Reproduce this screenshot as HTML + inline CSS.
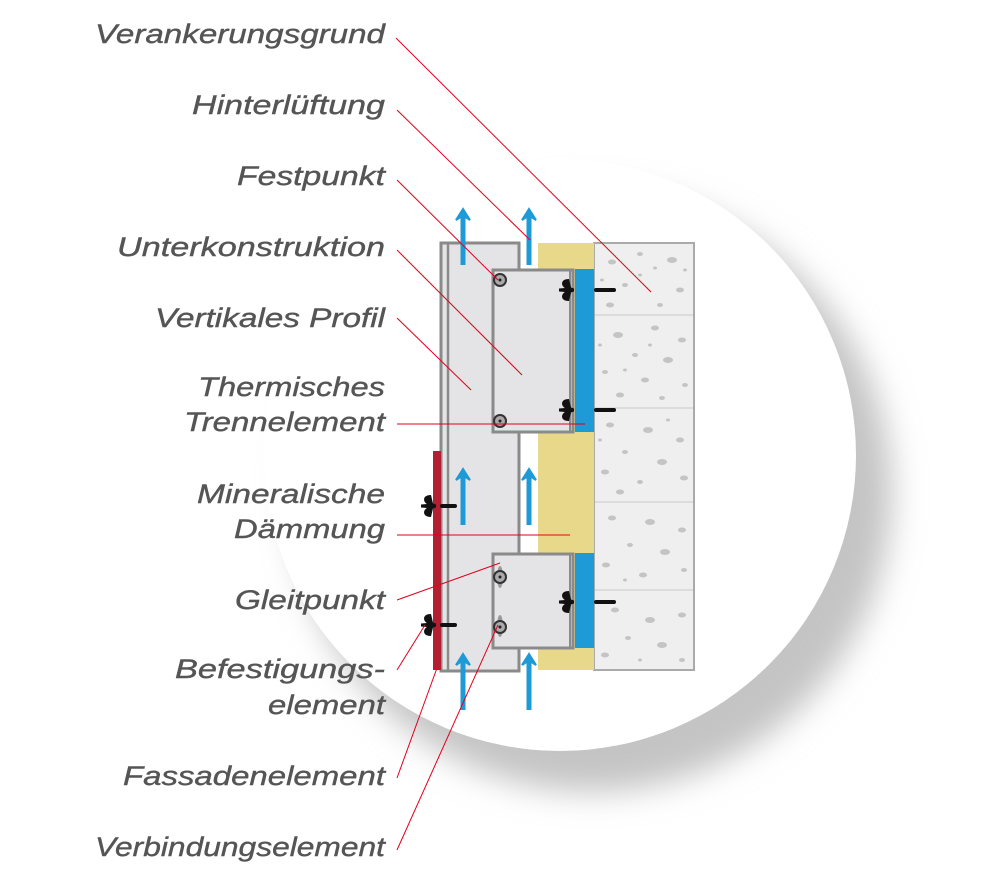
<!DOCTYPE html>
<html><head><meta charset="utf-8"><style>
html,body{margin:0;padding:0;background:#fff;}
svg{display:block;}
text{font-family:"Liberation Sans",sans-serif;font-style:italic;font-size:27px;fill:#555;stroke:#555;stroke-width:0.4;}
</style></head><body>
<svg width="1000" height="886" viewBox="0 0 1000 886" xmlns="http://www.w3.org/2000/svg">
<defs>
<filter id="blur" x="-20%" y="-20%" width="140%" height="140%"><feGaussianBlur stdDeviation="16"/></filter>
<g id="arrow"><rect x="-2.5" y="8" width="5" height="48" fill="#1e9ad6"/><path d="M0 0 L-7 11 L-2.5 8 L2.5 8 L7 11 Z" fill="#1e9ad6" stroke="#1e9ad6" stroke-width="2"/></g>
<g id="anchor"><path d="M1 -11 C-8 -11 -7 -4 -3 -2 L-9 -1.5 L-9 1.5 L-3 2 C-7 4 -8 11 1 11 L3 2.5 L6 1.5 L6 -1.5 L3 -2.5 Z" fill="#111"/></g>
</defs>
<!-- circle background with shadow -->
<circle cx="592" cy="492" r="300" fill="#c4c4c4" filter="url(#blur)"/>
<circle cx="560" cy="455" r="296" fill="#fff"/>

<!-- concrete -->
<rect x="594" y="243" width="100" height="427" fill="#efefef" stroke="#aaa" stroke-width="2"/>
<g stroke="#d6d6d6" stroke-width="1.5"><line x1="595" y1="315" x2="693" y2="315"/><line x1="595" y1="408" x2="693" y2="408"/><line x1="595" y1="502" x2="693" y2="502"/><line x1="595" y1="590" x2="693" y2="590"/></g>
<g fill="#c4c4c4">
<ellipse cx="612" cy="262" rx="4" ry="2.5"/><ellipse cx="640" cy="254" rx="3" ry="2"/><ellipse cx="672" cy="260" rx="5" ry="3"/><ellipse cx="625" cy="285" rx="3" ry="2"/><ellipse cx="680" cy="290" rx="4" ry="2.5"/><ellipse cx="660" cy="305" rx="3" ry="2"/><ellipse cx="610" cy="305" rx="4" ry="2.5"/><ellipse cx="640" cy="275" rx="2" ry="1.5"/><ellipse cx="655" cy="268" rx="2" ry="1.5"/><ellipse cx="602" cy="280" rx="2" ry="1.5"/><ellipse cx="685" cy="270" rx="2" ry="1.5"/>
<ellipse cx="618" cy="335" rx="5" ry="3"/><ellipse cx="655" cy="328" rx="4" ry="2.5"/><ellipse cx="682" cy="340" rx="4" ry="2.5"/><ellipse cx="635" cy="355" rx="3" ry="2"/><ellipse cx="668" cy="360" rx="5" ry="3"/><ellipse cx="605" cy="372" rx="3" ry="2"/><ellipse cx="645" cy="380" rx="4" ry="2.5"/><ellipse cx="685" cy="385" rx="3" ry="2"/><ellipse cx="620" cy="395" rx="4" ry="2.5"/><ellipse cx="662" cy="398" rx="3" ry="2"/><ellipse cx="600" cy="345" rx="2" ry="1.5"/><ellipse cx="650" cy="345" rx="2" ry="1.5"/><ellipse cx="625" cy="370" rx="2" ry="1.5"/>
<ellipse cx="610" cy="425" rx="4" ry="2.5"/><ellipse cx="648" cy="430" rx="5" ry="3"/><ellipse cx="680" cy="440" rx="4" ry="2.5"/><ellipse cx="625" cy="452" rx="3" ry="2"/><ellipse cx="662" cy="462" rx="5" ry="3"/><ellipse cx="605" cy="472" rx="4" ry="2.5"/><ellipse cx="640" cy="482" rx="3" ry="2"/><ellipse cx="684" cy="478" rx="4" ry="2.5"/><ellipse cx="620" cy="492" rx="4" ry="2.5"/><ellipse cx="600" cy="440" rx="2" ry="1.5"/><ellipse cx="668" cy="420" rx="2" ry="1.5"/>
<ellipse cx="612" cy="518" rx="4" ry="2.5"/><ellipse cx="650" cy="522" rx="5" ry="3"/><ellipse cx="682" cy="530" rx="4" ry="2.5"/><ellipse cx="630" cy="545" rx="3" ry="2"/><ellipse cx="665" cy="552" rx="5" ry="3"/><ellipse cx="606" cy="565" rx="4" ry="2.5"/><ellipse cx="643" cy="575" rx="4" ry="2.5"/><ellipse cx="684" cy="570" rx="3" ry="2"/><ellipse cx="625" cy="580" rx="2" ry="1.5"/>
<ellipse cx="615" cy="610" rx="4" ry="2.5"/><ellipse cx="650" cy="620" rx="5" ry="3"/><ellipse cx="682" cy="615" rx="4" ry="2.5"/><ellipse cx="628" cy="638" rx="3" ry="2"/><ellipse cx="662" cy="645" rx="5" ry="3"/><ellipse cx="605" cy="655" rx="4" ry="2.5"/><ellipse cx="682" cy="660" rx="3" ry="2"/><ellipse cx="640" cy="660" rx="2" ry="1.5"/>
</g>
<!-- insulation -->
<rect x="538" y="243" width="56" height="427" fill="#e8d98a"/>
<!-- vertical profile -->
<rect x="441" y="243" width="78" height="428" fill="#e4e4e6" stroke="#8a8a8a" stroke-width="3"/>
<line x1="448" y1="244" x2="448" y2="670" stroke="#8a8a8a" stroke-width="2.5"/>
<!-- facade element -->
<rect x="433" y="451" width="8" height="219" fill="#b21f33"/>
<!-- brackets -->
<rect x="493" y="270" width="80" height="162" fill="#e4e4e6" stroke="#8a8a8a" stroke-width="3"/>
<line x1="570" y1="270" x2="570" y2="432" stroke="#8a8a8a" stroke-width="2"/>
<rect x="493" y="554" width="80" height="94" fill="#e4e4e6" stroke="#8a8a8a" stroke-width="3"/>
<line x1="570" y1="554" x2="570" y2="648" stroke="#8a8a8a" stroke-width="2"/>
<!-- blue thermal -->
<rect x="575" y="269" width="19" height="163" fill="#1e9ad6"/>
<rect x="575" y="553" width="19" height="95" fill="#1e9ad6"/>
<!-- anchors -->
<g fill="#111">
<use href="#anchor" x="568" y="290"/><rect x="594" y="288" width="22" height="4" rx="2"/>
<use href="#anchor" x="568" y="410"/><rect x="594" y="408" width="22" height="4" rx="2"/>
<use href="#anchor" x="568" y="602"/><rect x="594" y="600" width="22" height="4" rx="2"/>
<use href="#anchor" x="430" y="506"/><rect x="440" y="504" width="17" height="4" rx="2"/>
<use href="#anchor" x="430" y="625"/><rect x="440" y="623" width="17" height="4" rx="2"/>
</g>
<!-- bolts -->
<g stroke="#333" stroke-width="2" fill="#aaa">
<circle cx="500" cy="280" r="6"/><circle cx="500" cy="421" r="6"/>
<ellipse cx="500" cy="577" rx="3" ry="11" fill="#999" stroke="none"/><circle cx="500" cy="577" r="6"/>
<ellipse cx="500" cy="626" rx="3" ry="11" fill="#999" stroke="none"/><circle cx="500" cy="627" r="6"/>
</g>
<g fill="#222"><circle cx="500" cy="280" r="1.5"/><circle cx="500" cy="421" r="1.5"/><circle cx="500" cy="577" r="1.5"/><circle cx="500" cy="627" r="1.5"/></g>
<!-- arrows -->
<use href="#arrow" x="463" y="209"/><use href="#arrow" x="529" y="209"/>
<use href="#arrow" x="463" y="469"/><use href="#arrow" x="529" y="469"/>
<use href="#arrow" x="463" y="654"/><use href="#arrow" x="529" y="654"/>
<!-- leader lines -->
<g stroke="#e3001b" stroke-width="1" fill="none">
<line x1="396" y1="38" x2="651" y2="292"/>
<line x1="397" y1="110" x2="530" y2="240"/>
<line x1="397" y1="180" x2="498" y2="280"/>
<line x1="397" y1="250" x2="522" y2="375"/>
<line x1="397" y1="318" x2="471" y2="390"/>
<line x1="397" y1="424" x2="585" y2="424"/>
<line x1="397" y1="535" x2="570" y2="535"/>
<line x1="397" y1="600" x2="500" y2="563"/>
<line x1="397" y1="670" x2="425" y2="625"/>
<line x1="397" y1="778" x2="437" y2="668"/>
<line x1="397" y1="850" x2="498" y2="625"/>
</g>
<!-- labels -->
<g text-anchor="end">
<text x="385" y="43" textLength="290" lengthAdjust="spacingAndGlyphs">Verankerungsgrund</text>
<text x="385" y="114" textLength="193" lengthAdjust="spacingAndGlyphs">Hinterlüftung</text>
<text x="385" y="185" textLength="148" lengthAdjust="spacingAndGlyphs">Festpunkt</text>
<text x="385" y="256" textLength="268" lengthAdjust="spacingAndGlyphs">Unterkonstruktion</text>
<text x="385" y="327" textLength="230" lengthAdjust="spacingAndGlyphs">Vertikales Profil</text>
<text x="385" y="396" textLength="187" lengthAdjust="spacingAndGlyphs">Thermisches</text>
<text x="385" y="431" textLength="201" lengthAdjust="spacingAndGlyphs">Trennelement</text>
<text x="385" y="503" textLength="188" lengthAdjust="spacingAndGlyphs">Mineralische</text>
<text x="385" y="538" textLength="151" lengthAdjust="spacingAndGlyphs">Dämmung</text>
<text x="385" y="609" textLength="150" lengthAdjust="spacingAndGlyphs">Gleitpunkt</text>
<text x="385" y="678" textLength="210" lengthAdjust="spacingAndGlyphs">Befestigungs-</text>
<text x="385" y="714" textLength="117" lengthAdjust="spacingAndGlyphs">element</text>
<text x="385" y="785" textLength="262" lengthAdjust="spacingAndGlyphs">Fassadenelement</text>
<text x="385" y="856" textLength="290" lengthAdjust="spacingAndGlyphs">Verbindungselement</text>
</g>
</svg>
</body></html>
